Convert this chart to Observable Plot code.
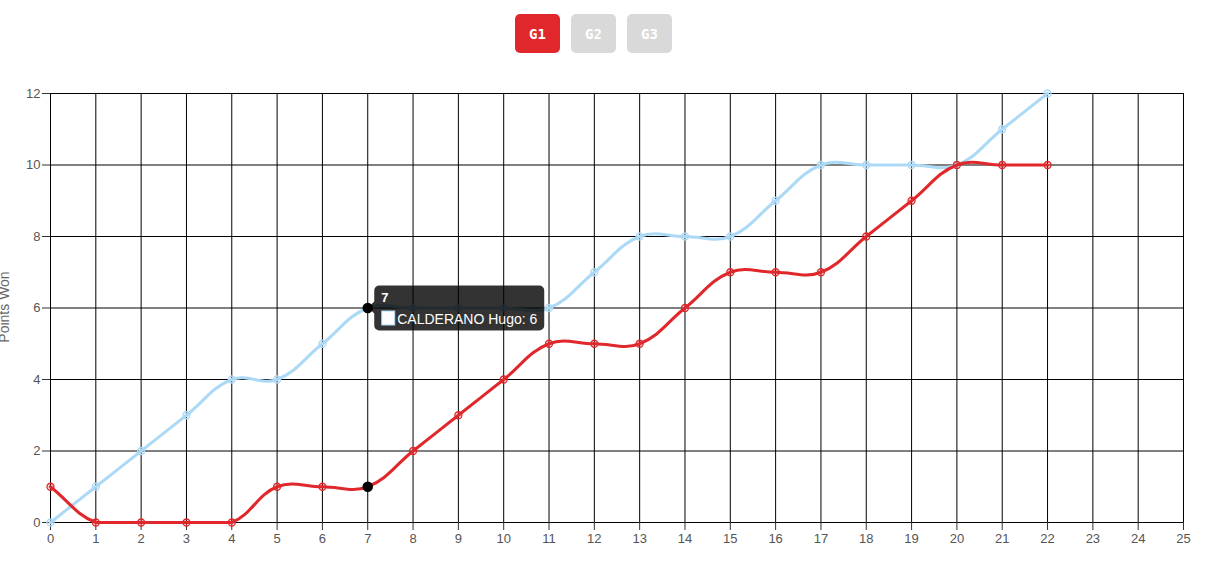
<!DOCTYPE html>
<html><head><meta charset="utf-8">
<script src="https://cdn.jsdelivr.net/npm/d3@7"></script>
<script src="https://cdn.jsdelivr.net/npm/@observablehq/plot@0.6"></script>
<style>
body{margin:0;background:#fff;font-family:"Liberation Sans",Arial,sans-serif;}
#btns{height:70px;position:relative;}
.btn{position:absolute;top:14px;width:45px;height:39px;border-radius:5px;color:#fff;font:bold 14px "DejaVu Sans Mono",monospace;display:flex;align-items:center;justify-content:center;}
#chart{position:relative;}
#ylab{position:absolute;left:-36px;top:229px;width:80px;height:16px;line-height:16px;white-space:nowrap;transform:rotate(-90deg);transform-origin:center;font-size:14px;color:#666;text-align:center;}
</style></head><body>
<div id="btns"></div>
<div id="chart"></div>
<script>
const games = ["G1","G2","G3"];
const rally = d3.range(0,23);
const calderano = [0,1,2,3,4,4,5,6,6,6,6,6,7,8,8,8,9,10,10,10,10,11,12];
const opponent  = [1,0,0,0,0,1,1,1,2,3,4,5,5,5,6,7,7,7,8,9,10,10,10];
const xTicks = d3.range(0,26);
const yTicks = [0,2,4,6,8,10,12];
const hoverIndex = 7;
const hoverLabel = "CALDERANO Hugo";

const RED = "#e0282c", BLUE = "#acd9f5";
const W=1210, H=502, MT=23, ML=50, MR=27, MB=50;

const btns = document.getElementById("btns");
games.forEach((g,i)=>{
  const b=document.createElement("div");
  b.className="btn"; b.textContent=g;
  b.style.left=(515+i*56)+"px";
  b.style.background = i===0?RED:"#d9d9d9";
  btns.appendChild(b);
});

// Chart.js-like bezier spline (tension 0.4) with control points clamped to the plot area
function splineCurve(context){
  const area={left:ML,right:W-MR,top:MT,bottom:H-MB};
  const t=0.4;
  let pts=[];
  const clamp=(v,a,b)=>Math.max(a,Math.min(b,v));
  return {
    areaStart(){}, areaEnd(){},
    lineStart(){pts=[];},
    point(x,y){pts.push({x:+x,y:+y});},
    lineEnd(){
      const n=pts.length; if(!n) return;
      const cps=pts.map((cur,i)=>{
        const prev=pts[i-1]||cur, next=pts[i+1]||cur;
        const d01=Math.hypot(cur.x-prev.x,cur.y-prev.y), d12=Math.hypot(next.x-cur.x,next.y-cur.y);
        let s01=d01/(d01+d12), s12=d12/(d01+d12);
        if(isNaN(s01)) s01=0; if(isNaN(s12)) s12=0;
        const fa=t*s01, fb=t*s12;
        const cp1={x:cur.x-fa*(next.x-prev.x), y:cur.y-fa*(next.y-prev.y)};
        const cp2={x:cur.x+fb*(next.x-prev.x), y:cur.y+fb*(next.y-prev.y)};
        [cp1,cp2].forEach(p=>{p.x=clamp(p.x,area.left,area.right);p.y=clamp(p.y,area.top,area.bottom);});
        return {cp1,cp2};
      });
      context.moveTo(pts[0].x,pts[0].y);
      for(let i=1;i<n;i++){
        const a=cps[i-1].cp2, b=cps[i].cp1;
        context.bezierCurveTo(a.x,a.y,b.x,b.y,pts[i].x,pts[i].y);
      }
    }
  };
}

const blueData = rally.map((x,i)=>({x, y: calderano[i]}));
const redData = rally.map((x,i)=>({x, y: opponent[i]}));

const chart = Plot.plot({
  width:W, height:H,
  marginTop:MT, marginLeft:ML, marginRight:MR, marginBottom:MB,
  style:{fontFamily:"'Liberation Sans',Arial,sans-serif", fontSize:"13px", color:"#555", background:"transparent"},
  x:{domain:[0,25], label:null},
  y:{domain:[0,12], label:null},
  marks:[
    Plot.gridX(xTicks,{stroke:"#000", strokeOpacity:1, strokeWidth:1}),
    Plot.gridY(yTicks,{stroke:"#000", strokeOpacity:1, strokeWidth:1}),
    Plot.axisX({ticks:xTicks, tickFormat:d=>d, tickSize:8, tickPadding:3, stroke:"#333", fill:"#555", fontSize:13, label:null}),
    Plot.axisY({ticks:yTicks, tickSize:8, tickPadding:2, stroke:"#333", fill:"#555", fontSize:13, label:null}),
    Plot.line(blueData,{x:"x",y:"y",stroke:BLUE,strokeWidth:3,curve:splineCurve}),
    Plot.dot(blueData,{x:"x",y:"y",r:3.5,stroke:BLUE,strokeWidth:1.3,fill:BLUE,fillOpacity:0.2}),
    Plot.line(redData,{x:"x",y:"y",stroke:RED,strokeWidth:3,curve:splineCurve}),
    Plot.dot(redData,{x:"x",y:"y",r:3.5,stroke:RED,strokeWidth:1.3,fill:RED,fillOpacity:0.2}),
    Plot.dot([blueData[hoverIndex], redData[hoverIndex]],{x:"x",y:"y",r:4.5,fill:"#000",stroke:"#000"})
  ]
});
document.getElementById("chart").appendChild(chart);
const yl=document.createElement("div"); yl.id="ylab"; yl.textContent="Points Won";
document.getElementById("chart").appendChild(yl);

// tooltip anchored at hovered point
const sx = chart.scale("x"), sy = chart.scale("y");
const px = sx.apply(hoverIndex), py = sy.apply(calderano[hoverIndex]);
const svg = d3.select(chart);
const g = svg.append("g").attr("transform",`translate(${px},${py})`).attr("text-anchor","start")
  .style("font-family","'Liberation Sans',Arial,sans-serif");
const bx=7, by=-22, bw=170, bh=45, r=5;
g.append("path").attr("fill","rgba(0,0,0,0.8)")
 .attr("d",`M${bx+r},${by} h${bw-2*r} a${r},${r} 0 0 1 ${r},${r} v${bh-2*r} a${r},${r} 0 0 1 -${r},${r} h-${bw-2*r} a${r},${r} 0 0 1 -${r},-${r} V6 L1,0 L${bx},-6 V${by+r} a${r},${r} 0 0 1 ${r},-${r} Z`);
g.append("text").attr("x",bx+7).attr("y",by+16).attr("fill","#fff").attr("font-weight","bold").attr("font-size",13).text(String(hoverIndex));
g.append("rect").attr("x",bx+7.5).attr("y",by+25.5).attr("width",13).attr("height",14).attr("fill","#fff").attr("stroke",BLUE).attr("stroke-width",1);
g.append("text").attr("x",bx+23).attr("y",by+38).attr("fill","#fff").attr("font-size",14).text(`${hoverLabel}: ${calderano[hoverIndex]}`);
</script>
</body></html>
